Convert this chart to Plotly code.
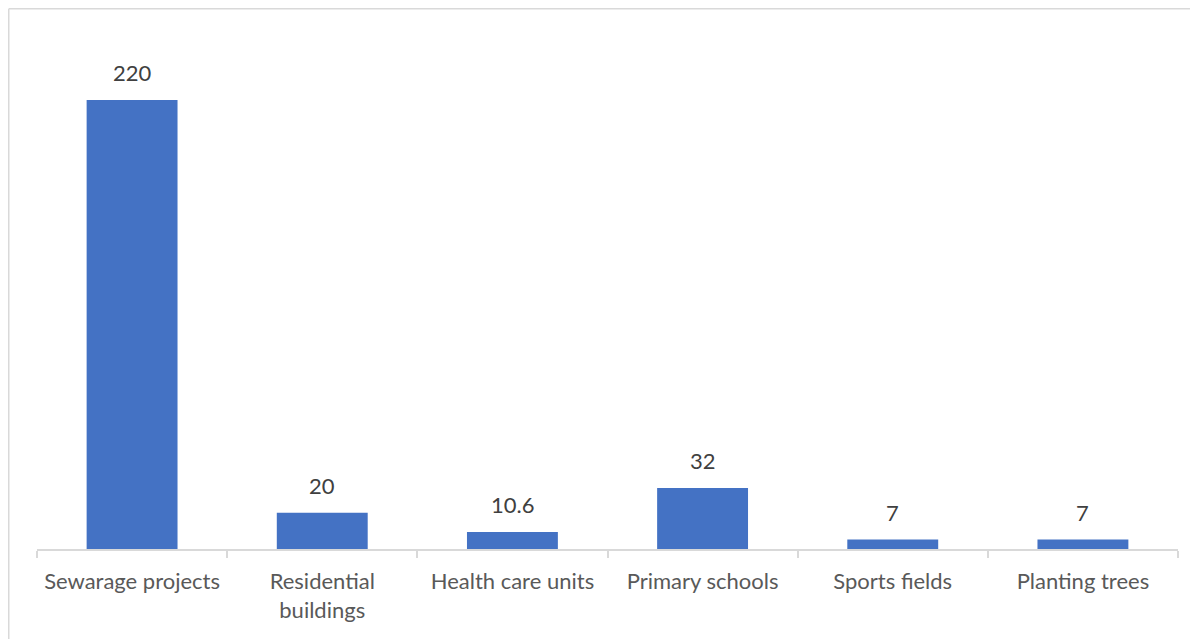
import plotly.graph_objects as go

categories = ["Sewarage projects", "Residential<br>buildings", "Health care units",
              "Primary schools", "Sports fields", "Planting trees"]
values = [220, 20, 10.6, 32, 7, 7]
value_labels = ["220", "20", "10.6", "32", "7", "7"]

# page has an 8px body margin; compensate in figure size/margins
W, H = 1190, 631
L, R, T, B = 29, 20, 30, 90
pw, ph = W - L - R, H - T - B

fig = go.Figure()
fig.add_trace(go.Bar(
    x=categories, y=values, width=0.478,
    marker=dict(color="#4472C4", line=dict(width=0)),
    hoverinfo="skip",
))

for c, v, t in zip(categories, values, value_labels):
    fig.add_annotation(x=c, y=v, text=t, showarrow=False, yanchor="bottom",
                       yshift=12, font=dict(family="Lato", size=22, color="#404040"))

# chart border (top and left visible)
bx = (0.75 - L) / pw
by = (H - B - 0.75) / ph
fig.add_shape(type="line", xref="paper", yref="paper", x0=bx, x1=(W + 2 - L) / pw,
              y0=by, y1=by, line=dict(color="#d9d9d9", width=1.5))
fig.add_shape(type="line", xref="paper", yref="paper", x0=bx, x1=bx,
              y0=by, y1=-(B + 2) / ph, line=dict(color="#d9d9d9", width=1.5))

fig.update_layout(
    width=W, height=H,
    margin=dict(l=L, r=R, t=T, b=B),
    paper_bgcolor="white", plot_bgcolor="white",
    showlegend=False,
    bargap=0.5,
    font=dict(family="Lato", size=22, color="#595959"),
    xaxis=dict(showline=True, linecolor="#d9d9d9", linewidth=1.5,
               ticks="outside", tickson="boundaries", ticklen=7, tickcolor="#d9d9d9",
               tickwidth=1.5, ticklabelstandoff=12,
               tickfont=dict(family="Lato", size=22, color="#595959"),
               showgrid=False, fixedrange=True),
    yaxis=dict(range=[2.4, 250], visible=False, showgrid=False, zeroline=False,
               fixedrange=True),
)

fig.write_html("out.html")
